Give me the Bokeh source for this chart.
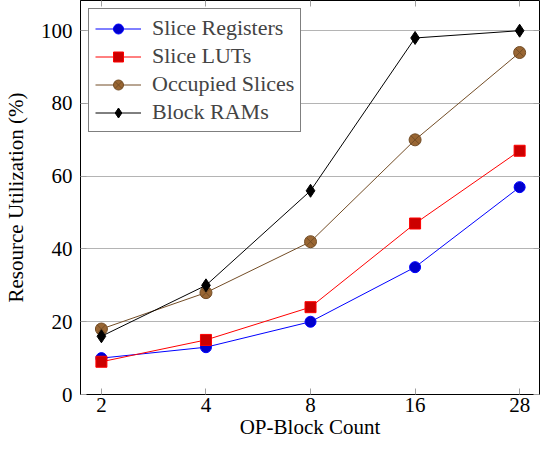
from bokeh.plotting import figure
from bokeh.models import Range1d, FixedTicker, LinearAxis, Legend, LegendItem, CustomJSTickFormatter
from bokeh.embed import file_html
from bokeh.resources import INLINE

categories = ["2", "4", "8", "16", "28"]
slice_registers = [10, 13, 20, 35, 57]
slice_luts = [9, 15, 24, 47, 67]
occupied_slices = [18, 28, 42, 70, 94]
block_rams = [16, 30, 56, 98, 100]
y_ticks = [0, 20, 40, 60, 80, 100]

FONT = "Liberation Serif"
xs = list(range(len(categories)))

p = figure(width=540, height=441, output_backend="svg", toolbar_location=None,
           x_range=Range1d(-0.2, 4.19), y_range=Range1d(0, 108.3),
           min_border_left=0, min_border_right=1, min_border_top=0, min_border_bottom=0)
p.outline_line_color = "black"
p.outline_line_width = 1

p.xgrid.grid_line_color = None
p.ygrid.grid_line_color = "#b4b4b4"
p.ygrid.ticker = FixedTicker(ticks=y_ticks)

xa = p.xaxis[0]
xa.ticker = FixedTicker(ticks=xs)
xa.major_label_overrides = {i: c for i, c in enumerate(categories)}
ya = p.yaxis[0]
ya.ticker = FixedTicker(ticks=y_ticks)
for ax in (xa, ya):
    ax.axis_line_color = "black"
    ax.major_tick_in = 6
    ax.major_tick_out = 0
    ax.major_tick_line_color = "#a0a0a0"
    ax.minor_tick_line_color = None
    ax.major_label_text_font = FONT
    ax.major_label_text_font_size = "21px"
    ax.major_label_text_color = "black"
    ax.axis_label_text_font = FONT
    ax.axis_label_text_font_size = "21px"
    ax.axis_label_text_font_style = "normal"
    ax.axis_label_text_color = "black"
xa.axis_label = "OP-Block Count"
ya.axis_label = "Resource Utilization (%)"
xa.major_label_standoff = 3
xa.axis_label_standoff = 0
ya.major_label_standoff = 8
ya.axis_label_standoff = 10

blank = CustomJSTickFormatter(code="return ''")
top = LinearAxis(ticker=FixedTicker(ticks=xs), formatter=blank)
right = LinearAxis(ticker=FixedTicker(ticks=y_ticks), formatter=blank)
for ax in (top, right):
    ax.axis_line_color = None
    ax.major_tick_in = 6
    ax.major_tick_out = 0
    ax.major_tick_line_color = "#a0a0a0"
    ax.minor_tick_line_color = None
    ax.major_label_standoff = 0
p.add_layout(top, "above")
p.add_layout(right, "right")

series = [
    ("Slice Registers", slice_registers, "#0000ff", "#0000cc", "circle", 11),
    ("Slice LUTs", slice_luts, "#ff0000", "#cc0000", "square", 11),
    ("Occupied Slices", occupied_slices, "#734d26", "#996633", "circle_x", 12),
    ("Block RAMs", block_rams, "#000000", "#000000", "diamond", 13),
]
items = []
for name, ys, lc, fc, marker, size in series:
    l = p.line(xs, ys, line_color=lc, line_width=1)
    s = p.scatter(xs, ys, marker=marker, size=size, fill_color=fc, line_color=lc, line_width=1)
    items.append(LegendItem(label=name, renderers=[l, s]))

legend = Legend(items=items, location="top_left", margin=8,
                border_line_color="black", border_line_width=1,
                background_fill_alpha=1, padding=6, spacing=2,
                glyph_width=46, glyph_height=25, label_height=25, label_standoff=11,
                label_text_font=FONT, label_text_font_size="22px")
p.add_layout(legend, "center")

open("out.html", "w").write(file_html(p, INLINE))
